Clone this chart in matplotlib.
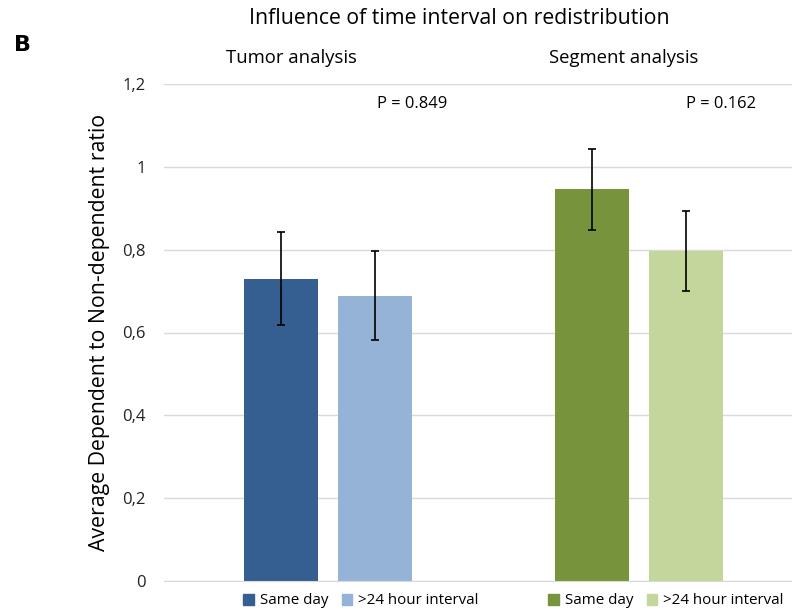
import numpy as np
import matplotlib.pyplot as plt
from matplotlib.patches import Patch

plt.rcParams['font.family'] = ['Open Sans', 'DejaVu Sans']

# Daten
gruppen = ['Tumor analysis', 'Segment analysis']
serien = ['Same day', '>24 hour interval']
mittel_same = [0.730, 0.946]
mittel_24h = [0.689, 0.797]
fehler_same = [0.113, 0.098]
fehler_24h = [0.107, 0.096]
p_werte = ['P = 0.849', 'P = 0.162']
yticks = [0, 0.2, 0.4, 0.6, 0.8, 1.0, 1.2]
ytick_labels = ['0', '0,2', '0,4', '0,6', '0,8', '1', '1,2']

farben_same = ['#365F91', '#77933C']
farben_24h = ['#95B3D7', '#C3D69B']

fig = plt.figure(figsize=(7.92, 6.12), dpi=100)
ax = fig.add_axes([164/792, 1 - 581/612, 1 - 164/792, (581 - 84)/612])

x = np.arange(len(gruppen))
b = 0.238
off = 0.1513
ax.bar(x - off, mittel_same, b, color=farben_same, zorder=2)
ax.bar(x + off, mittel_24h, b, color=farben_24h, zorder=2)
ax.errorbar(x - off, mittel_same, yerr=fehler_same, fmt='none', ecolor='black',
            elinewidth=1.2, capsize=2.6, capthick=1.2, zorder=3)
ax.errorbar(x + off, mittel_24h, yerr=fehler_24h, fmt='none', ecolor='black',
            elinewidth=1.2, capsize=2.6, capthick=1.2, zorder=3)

ax.set_xlim(-0.5281, 1.4934)
ax.set_ylim(0, 1.2)
ax.set_yticks(yticks)
ax.set_yticklabels(ytick_labels)
ax.set_xticks([])
ax.tick_params(axis='y', length=0, pad=13, labelsize=12, colors='#222222')
ax.grid(axis='y', color='#D9D9D9', linewidth=1, zorder=0)
for s in ['top', 'right', 'left']:
    ax.spines[s].set_visible(False)
ax.spines['bottom'].set_color('#D9D9D9')
ax.set_ylabel('Average Dependent to Non-dependent ratio', fontsize=15.3, labelpad=9)

# Texte oben
fig.text(459/792, 1 - 18/612, 'Influence of time interval on redistribution',
         ha='center', va='center', fontsize=15.3)
fig.text(291/792, 1 - 58/612, gruppen[0], ha='center', va='center', fontsize=13.3)
fig.text(624/792, 1 - 58/612, gruppen[1], ha='center', va='center', fontsize=13.3)
fig.text(412/792, 1 - 104/612, p_werte[0], ha='center', va='center', fontsize=11.9)
fig.text(721/792, 1 - 104/612, p_werte[1], ha='center', va='center', fontsize=11.9)
fig.text(22/792, 1 - 45/612, 'B', ha='center', va='center', fontsize=16,
         fontweight='bold', family='DejaVu Sans')

# zwei Legenden
for i, cx in enumerate([361, 666]):
    h = [Patch(color=farben_same[i]), Patch(color=farben_24h[i])]
    fig.legend(h, serien, loc='center', bbox_to_anchor=(cx/792, 1 - 601/612),
               ncol=2, frameon=False, fontsize=10.9, handlelength=0.7,
               handleheight=0.7, handletextpad=0.4, columnspacing=0.9,
               borderpad=0, borderaxespad=0)

plt.savefig('out.png', dpi=100)
